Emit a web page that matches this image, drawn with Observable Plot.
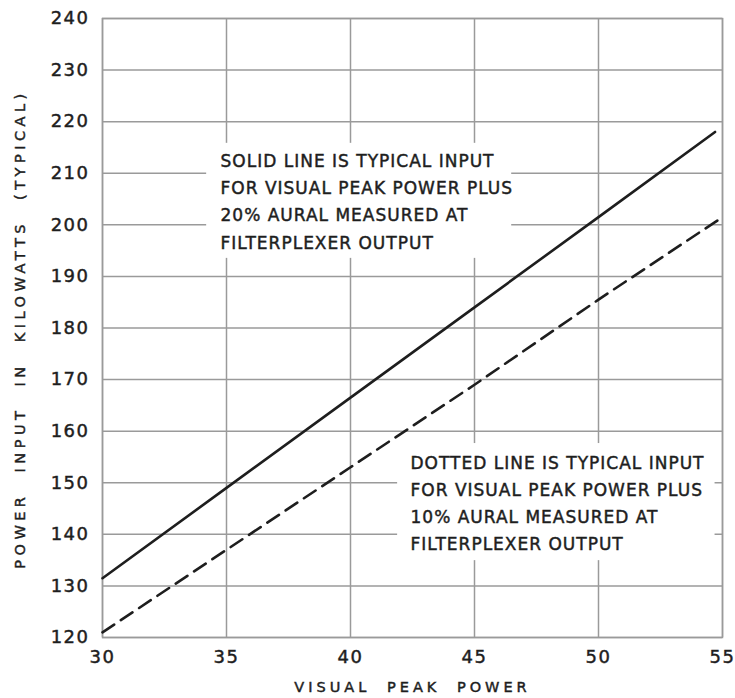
<!DOCTYPE html>
<html>
<head>
<meta charset="utf-8">
<script src="https://cdn.jsdelivr.net/npm/d3@7"></script>
<script src="https://cdn.jsdelivr.net/npm/@observablehq/plot@0.6"></script>
<style>
  html, body { margin: 0; padding: 0; background: #fff; }
  #chart svg { display: block; }
  #chart svg text { stroke: #1e1e1e; stroke-width: 0.45px; }
</style>
</head>
<body>
<div id="chart"></div>
<script>
// Tick values
const xTicks = [30, 35, 40, 45, 50, 55];
const yTicks = [120, 130, 140, 150, 160, 170, 180, 190, 200, 210, 220, 230, 240];

// Solid line: visual peak power + 20% aural
const solidX = [30, 35, 40, 45, 50, 54.7];
const solidY = [131.5, 149, 166.5, 184, 201.5, 218];

// Dashed line: visual peak power + 10% aural
const dashedX = [30, 35, 40, 45, 50, 55];
const dashedY = [121, 137, 153, 169, 185.5, 201.5];

// Annotations (data coordinates)
const noteText = [
  "SOLID LINE IS TYPICAL INPUT\nFOR VISUAL PEAK POWER PLUS\n20% AURAL MEASURED AT\nFILTERPLEXER OUTPUT",
  "DOTTED LINE IS TYPICAL INPUT\nFOR VISUAL PEAK POWER PLUS\n10% AURAL MEASURED AT\nFILTERPLEXER OUTPUT"
];
const noteX = [34.76, 42.42];
const noteY = [205.0, 146.5];
const boxX1 = [34.2, 41.9];
const boxX2 = [46.5, 54.7];
const boxY1 = [193.5, 134.9];
const boxY2 = [215.8, 157.6];

const xLabel = "VISUAL PEAK POWER";
const yLabel = "POWER INPUT IN KILOWATTS (TYPICAL)";

const solid = solidX.map((x, i) => ({x, y: solidY[i]}));
const dashed = dashedX.map((x, i) => ({x, y: dashedY[i]}));
const notes = noteText.map((t, i) => ({t, x: noteX[i], y: noteY[i], x1: boxX1[i], x2: boxX2[i], y1: boxY1[i], y2: boxY2[i]}));

const gridColor = "#9a9a9a";
const ink = "#1e1e1e";

const chart = Plot.plot({
  width: 735,
  height: 698,
  marginLeft: 102,
  marginRight: 13,
  marginTop: 18,
  marginBottom: 61,
  style: {fontFamily: "'DejaVu Sans', sans-serif", fontSize: "18px", color: ink, background: "#fff"},
  x: {domain: [30, 55]},
  y: {domain: [120, 240]},
  marks: [
    Plot.gridX(xTicks, {stroke: gridColor, strokeOpacity: 1, strokeWidth: 1.5}),
    Plot.gridY(yTicks, {stroke: gridColor, strokeOpacity: 1, strokeWidth: 1.5}),
    Plot.rect(notes, {x1: "x1", x2: "x2", y1: "y1", y2: "y2", fill: "white"}),
    Plot.frame({stroke: gridColor, strokeWidth: 1.5}),
    Plot.axisX(xTicks, {tickSize: 0, tickPadding: 13, label: null, fontSize: 18, fill: ink}),
    Plot.axisY(yTicks, {tickSize: 0, tickPadding: 13, label: null, fontSize: 18, fill: ink}),
    Plot.line(solid, {x: "x", y: "y", stroke: ink, strokeWidth: 2.6}),
    Plot.line(dashed, {x: "x", y: "y", stroke: ink, strokeWidth: 2.6, strokeDasharray: "14,8"}),
    Plot.text(notes, {x: "x", y: "y", text: "t", textAnchor: "start", lineHeight: 1.6, fontSize: 17, fill: ink}),
    Plot.text([xLabel], {frameAnchor: "bottom", dy: 54, fontSize: 14.5, fill: ink}),
    Plot.text([yLabel], {frameAnchor: "left", textAnchor: "middle", dx: -82, dy: 1, rotate: -90, fontSize: 14.5, fill: ink})
  ]
});

// letter spacing for axis titles and notes
d3.select(chart).selectAll("text").each(function() {
  const t = d3.select(this);
  const s = t.text();
  if (s === xLabel) t.style("letter-spacing", "4px").style("word-spacing", "8px");
  if (s === yLabel) t.style("letter-spacing", "4.5px").style("word-spacing", "11px");
});
d3.select(chart).selectAll("text").filter(function() {
  return this.querySelector("tspan");
}).style("letter-spacing", "1px");
d3.select(chart).selectAll("g[aria-label^='x-axis tick label'] text, g[aria-label^='y-axis tick label'] text").style("letter-spacing", "1.5px");

document.getElementById("chart").appendChild(chart);
</script>
</body>
</html>
